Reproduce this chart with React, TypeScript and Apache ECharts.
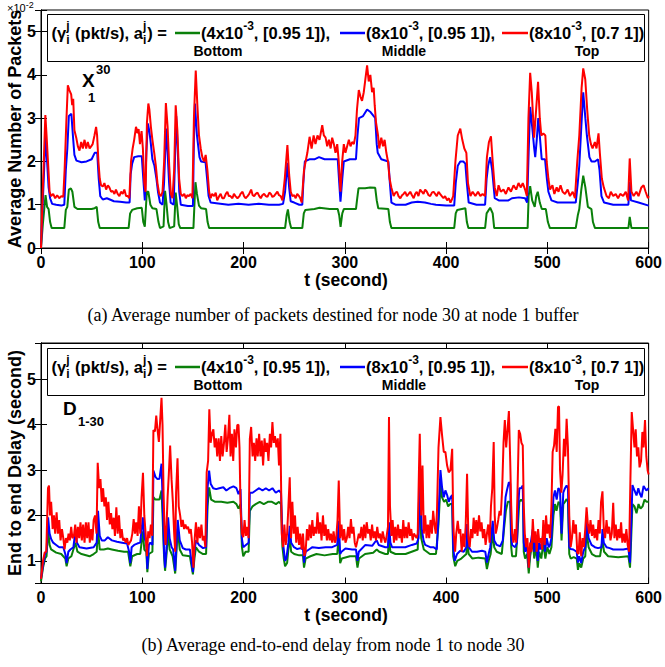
import React, { useEffect, useRef } from "react";
import * as echarts from "echarts";

// ---------- data: [t (s), value] ----------
const topGreen: number[][] = [[0,0],[2,0.6],[4.5,1.22],[6,0.95],[7.5,0.9],[9,0.6],[10.5,0.46],[23,0.46],[24.5,0.88],[26,0.95],[27.5,1.35],[29.5,1.38],[31,1.3],[33,0.95],[36,0.9],[45,0.9],[50,0.9],[53,0.92],[55,0.95],[56.5,0.6],[58,0.46],[86.5,0.46],[88,0.8],[90,0.88],[95,0.92],[99.5,0.93],[101,0.6],[102.5,0.49],[104.5,1.3],[106,1.3],[108,1.0],[110,0.92],[114,0.9],[116,0.6],[117.5,0.46],[121,0.5],[122.5,1.32],[124,1.0],[125.5,0.6],[127,0.46],[131.5,0.5],[133,1.28],[134.5,0.95],[136,0.55],[137.5,0.46],[150.5,0.46],[151.5,1.0],[152.5,1.52],[154,1.25],[156,0.98],[158,0.92],[163,0.9],[164.5,0.6],[166,0.46],[241,0.46],[242.5,0.75],[243.8,0.89],[245.5,0.6],[247,0.46],[258,0.46],[259.5,0.8],[261,0.88],[270,0.9],[275,0.93],[285,0.9],[293,0.9],[294.5,0.75],[295.8,0.49],[297.5,0.8],[299,0.9],[311,0.9],[312,1.1],[313.5,1.38],[320,1.38],[325,1.4],[330,1.39],[331.5,1.1],[333,0.92],[343,0.9],[344.5,0.6],[346,0.46],[408,0.46],[409.5,0.8],[411,0.88],[419,0.92],[420.5,0.6],[422,0.46],[438.5,0.46],[440,0.8],[443.5,0.93],[446,0.8],[447.5,0.46],[480.5,0.46],[481.5,1.2],[483,1.43],[485,1.1],[487.5,0.95],[489,1.2],[490.5,1.3],[492.5,1.05],[494.5,0.9],[498.5,0.9],[500.5,0.6],[502.5,0.46],[528,0.46],[530,0.75],[531.5,0.9],[533.5,1.35],[535.4,1.67],[537.5,1.4],[540,0.95],[543.5,0.9],[545,0.6],[547,0.46],[580,0.46],[581.3,0.72],[583,0.46],[600,0.46]];

const topBlue: number[][] = [[0,0],[2,1.2],[4.5,2.6],[6,2.0],[7.5,1.4],[9,1.15],[11,1.02],[15,1.0],[20,0.98],[23,1.0],[24.5,1.8],[26,2.3],[27.5,3.05],[30,3.1],[31.5,2.6],[33,2.15],[35,2.02],[40,1.98],[45,2.0],[50,2.05],[53,2.2],[55.5,2.2],[57,1.6],[58.5,1.2],[61,1.12],[65,1.15],[68,1.12],[72,1.08],[78,1.07],[84,1.05],[87.5,1.05],[88.5,1.7],[90,1.95],[92,2.1],[96,2.12],[99.5,2.12],[101,1.6],[102.5,1.1],[104,2.2],[105.5,2.88],[107,2.7],[108.5,2.4],[110,2.05],[112,1.9],[114,1.6],[115.5,1.3],[117.5,1.05],[120,1.0],[121.5,1.5],[123.5,2.76],[125,2.2],[126.5,1.5],[128,1.05],[131,1.0],[132,1.8],[133.5,3.05],[135,2.3],[136.5,1.3],[138,1.0],[145,0.97],[150,0.97],[151,2.5],[152,3.34],[154,2.6],[156.5,2.1],[158,2.0],[162.5,1.98],[164,1.6],[165.5,1.2],[167.5,1.05],[175,1.03],[185,1.0],[195,1.02],[205,1.0],[215,1.02],[225,1.0],[235,1.0],[239,1.02],[241,1.3],[243.3,1.97],[245,1.4],[246.5,1.08],[250,1.05],[255,1.0],[258,1.0],[259,1.5],[260.5,2.0],[265,2.05],[270,2.05],[274.5,2.1],[280,2.05],[287,2.05],[293,2.05],[294.5,1.5],[295.7,1.07],[297.5,1.6],[299,2.0],[305,2.05],[311,2.05],[312.5,2.6],[314,3.0],[318,3.05],[322,3.2],[325,3.15],[328.5,3.05],[330,3.0],[331.5,2.4],[332.5,2.2],[336,2.05],[343,2.0],[344.5,1.5],[346,1.05],[350,1.0],[360,1.0],[366,1.05],[372,1.07],[379,1.05],[385,1.02],[390,1.0],[400,0.98],[408,0.98],[409.5,1.5],[411.5,1.9],[414,2.0],[417,2.0],[419,1.95],[420.5,1.5],[422.3,1.05],[430,1.0],[438.5,1.0],[440,1.6],[441.5,1.9],[443.5,2.1],[445.5,1.8],[448,1.15],[452,1.1],[461.5,1.1],[465,1.15],[472,1.17],[478,1.15],[480,1.05],[481.5,2.2],[483,3.26],[485,2.8],[487,2.3],[488,2.1],[489.5,2.5],[491,3.0],[492.5,2.6],[494.4,2.05],[497.7,2.05],[499.5,1.6],[501,1.3],[504,1.1],[510,1.05],[520,1.05],[528,1.05],[530,1.5],[531.5,1.9],[533.5,2.8],[535.4,3.6],[537.5,3.0],[539,2.6],[541.5,2.1],[543.6,2.0],[547,2.0],[550,2.05],[551.5,1.8],[553.4,1.2],[556,1.05],[565,1.0],[575,1.0],[580,1.0],[581.3,1.53],[582.5,1.1],[590,1.05],[600,0.98]];

const topRed: number[][] = [[0,0],[2,1.5],[4.3,3.07],[5.5,2.6],[6.9,2.0],[8.5,1.3],[10,1.2],[12,1.25],[14,1.15],[16,1.22],[18,1.15],[20,1.2],[22,1.18],[23.3,1.8],[25,2.9],[26.5,3.76],[28,3.65],[29.8,3.55],[30.8,3.3],[31.8,3.45],[33,2.72],[34.8,2.55],[36.4,2.35],[38,2.25],[39.7,2.45],[41.3,2.3],[43,2.5],[44.6,2.3],[46.2,2.45],[48,2.3],[49.5,2.35],[51,2.4],[52.8,2.6],[54.4,2.8],[55.4,2.6],[56.7,2.0],[58,1.6],[59.3,1.45],[61,1.42],[62.6,1.5],[64.3,1.35],[66,1.45],[67.5,1.4],[69.2,1.3],[70.8,1.32],[72.5,1.25],[74,1.35],[75.7,1.25],[77.4,1.2],[79,1.3],[80.7,1.25],[82.3,1.35],[84,1.2],[85.6,1.2],[87.2,1.15],[88.9,2.0],[90.5,2.3],[92,2.5],[93.8,2.8],[95.4,2.65],[96.4,2.75],[97.7,2.4],[99.3,2.7],[100.6,2.3],[102,1.5],[103.3,1.3],[104.6,2.9],[106,3.34],[107,3.2],[108.5,2.8],[110,2.5],[111.8,2.2],[113.4,1.9],[115,1.5],[116.7,1.25],[118.4,1.2],[120,1.3],[121.6,2.0],[123.3,3.35],[125,2.8],[126.6,1.9],[128.2,1.25],[129.8,1.15],[131.5,1.8],[133,3.3],[134.7,2.7],[136.4,1.6],[138,1.25],[139.7,1.2],[141.5,1.25],[143,1.15],[144.5,1.22],[146,1.2],[147.8,1.25],[149.5,1.15],[151,3.0],[152.8,4.1],[154.4,3.3],[156,2.6],[157.7,2.3],[159.3,2.1],[161,2.0],[162.6,2.15],[164.3,1.8],[166,1.3],[167.5,1.15],[169,1.25],[171,1.2],[172.5,1.28],[174,1.1],[176,1.2],[177.4,1.25],[179,1.15],[180.7,1.15],[182.5,1.25],[184,1.3],[185.5,1.2],[187,1.2],[189,1.15],[190.5,1.25],[192,1.2],[194,1.15],[196,1.2],[197,1.25],[199,1.3],[200.5,1.2],[202,1.15],[204,1.2],[205.6,1.25],[207.5,1.35],[209,1.22],[210.5,1.2],[212,1.25],[213.8,1.28],[215.5,1.2],[217,1.15],[218.5,1.22],[220.3,1.25],[222,1.2],[223.6,1.18],[225.5,1.28],[227,1.25],[228.5,1.18],[230,1.2],[231.7,1.25],[233.4,1.3],[235,1.22],[236.7,1.2],[238.4,1.1],[240.7,1.6],[243.3,2.38],[245,1.7],[246.6,1.3],[248.2,1.2],[250,1.22],[251.5,1.15],[253,1.25],[254.8,1.2],[256,1.15],[257.4,1.05],[259.7,1.8],[261.3,2.0],[263,2.2],[265.2,2.57],[267.2,2.3],[269.2,2.6],[271,2.4],[273,2.6],[275,2.5],[277.7,2.84],[279.3,2.6],[281,2.55],[282.6,2.35],[284.3,2.5],[286,2.3],[287.5,2.55],[289.2,2.4],[290.8,2.2],[292.5,2.4],[294,2.0],[295.7,1.3],[297.4,2.0],[299,2.4],[300.6,2.2],[302.3,2.35],[304,2.5],[305.6,2.35],[307.2,2.45],[308.9,2.4],[310.5,2.6],[312,3.2],[313.8,3.65],[315.4,3.5],[317,3.4],[318.7,3.6],[320.3,3.9],[322,4.22],[323.6,3.85],[325.2,4.0],[326.9,3.6],[328.5,3.7],[329.5,3.3],[330.8,2.9],[332.8,2.6],[334,2.3],[336,2.55],[337.7,2.35],[339.3,2.5],[341,2.2],[342.6,2.0],[344.2,1.6],[345.9,1.4],[348.2,1.2],[350,1.28],[351.5,1.3],[353,1.2],[354.8,1.15],[356.5,1.22],[358,1.25],[359.6,1.3],[361.3,1.2],[363,1.25],[364.6,1.3],[366.3,1.22],[368,1.15],[369.5,1.25],[371,1.3],[372.7,1.2],[374.4,1.35],[376,1.3],[377.7,1.25],[379.3,1.35],[381,1.3],[382.7,1.22],[384.3,1.2],[386,1.28],[387.5,1.3],[389.2,1.25],[390.8,1.2],[392.5,1.3],[394,1.25],[395.7,1.2],[397.4,1.15],[399,1.2],[401,1.1],[402.7,1.15],[404.3,1.05],[405.7,1.12],[407,1.2],[409.2,2.0],[411.5,2.6],[414,2.76],[416,2.5],[418,2.3],[420,2.2],[421.6,1.5],[424,1.2],[426.2,1.3],[428.9,1.2],[431.5,1.3],[433.8,1.2],[436,1.25],[438.4,1.2],[440.3,2.1],[442.3,2.45],[444.3,2.58],[446,2.0],[448,1.4],[450,1.2],[451.8,1.45],[454,1.3],[456.7,1.35],[459,1.25],[461.6,1.4],[464,1.3],[466.6,1.45],[469.2,1.35],[471.5,1.5],[473.8,1.4],[475.7,1.5],[478,1.35],[479.7,1.2],[481.3,3.0],[483,4.05],[484.6,3.6],[486.9,2.55],[488.9,3.2],[490.8,3.84],[492.5,3.0],[494,2.6],[496,2.65],[498,2.6],[499.3,2.0],[501,1.6],[502.6,1.35],[505,1.45],[506.9,1.25],[509.2,1.4],[511,1.3],[513,1.45],[515,1.3],[517.4,1.25],[520,1.35],[522.3,1.2],[525,1.3],[527.2,1.15],[529.5,2.0],[531.5,2.6],[533.8,3.7],[535.4,4.15],[537.4,3.9],[539.3,3.2],[541.3,2.6],[543,2.4],[544.6,2.3],[546.9,2.45],[548.5,2.3],[550.5,2.65],[551.8,2.2],[553.8,1.6],[555.7,1.4],[558.4,1.2],[560.7,1.15],[562.6,1.3],[565,1.2],[567.5,1.25],[569.8,1.15],[572,1.25],[574.8,1.2],[577.4,1.3],[579.7,1.1],[581.3,2.07],[583,1.3],[585.2,1.2],[587.9,1.3],[590,1.2],[592.8,1.4],[595,1.45],[597,1.3],[599.3,1.15],[600,1.2]];

const botGreen: number[][] = [[0,0.55],[2,0.85],[4,1.05],[5.5,1.1],[7,1.7],[8.5,1.35],[10,1.25],[15,1.18],[20,1.15],[24,1.05],[25.3,0.88],[27,1.05],[30,1.1],[34,1.4],[36,1.2],[40,1.15],[48,1.1],[52,1.15],[55,1.2],[56.3,1.7],[58,1.25],[62,1.25],[66,1.27],[70,1.25],[76,1.22],[82,1.2],[86,1.2],[88.2,0.88],[90,1.1],[95,1.15],[98,1.15],[100.6,1.65],[102,1.25],[104,1.2],[105,0.75],[106.5,1.15],[110,1.2],[111,2.4],[113,2.35],[117,2.35],[119,2.55],[120,2.0],[121.5,1.1],[122.5,0.78],[124,1.15],[125.5,1.65],[127,1.25],[130,1.1],[132.5,0.72],[134,1.3],[135,1.7],[137,1.25],[140,1.12],[147,1.1],[150,0.7],[151.5,1.05],[153,1.3],[156,1.2],[160,1.15],[163,1.15],[164.5,2.2],[166,2.62],[168,2.35],[172,2.3],[178,2.3],[184,2.28],[190,2.3],[193,2.25],[195,2.15],[197,2.25],[198.4,1.3],[199.7,1.1],[202,1.2],[205,1.2],[206.2,2.1],[208.9,2.2],[212,2.25],[216,2.3],[220,2.25],[224,2.3],[228,2.3],[232,2.25],[235,2.3],[237,2.25],[238.4,1.3],[239.7,1.05],[241,0.88],[243,0.95],[245.6,1.55],[247,1.2],[250,1.15],[255,1.12],[258.7,1.12],[259.7,0.85],[261.3,1.05],[266,1.1],[272,1.15],[280,1.12],[288,1.15],[292.5,1.15],[294,1.55],[295.4,0.95],[297,1.05],[305,1.1],[311,1.1],[312.5,0.85],[314,1.05],[320,1.15],[328,1.18],[331.5,1.25],[334,1.2],[340,1.15],[342.6,1.15],[343.6,1.55],[345,1.2],[350,1.15],[360,1.15],[366,1.2],[372,1.25],[373.5,2.55],[375.4,1.5],[378,1.25],[384,1.15],[390,1.15],[392.5,1.8],[394.5,2.7],[396,2.4],[398,2.3],[400,2.35],[402,2.2],[404,2.25],[406,2.25],[407,1.1],[409,0.88],[411,1.0],[415,1.05],[420,1.15],[420.7,1.45],[422.3,1.15],[426,1.05],[432,1.07],[438.7,1.05],[440.3,0.82],[442,1.0],[444,1.15],[446,1.65],[447.5,1.3],[450,1.2],[455,1.15],[457.4,1.75],[459,2.1],[461,2.3],[463.3,2.3],[464.3,1.3],[465.2,1.1],[469,1.1],[471,1.8],[472.3,2.3],[474,2.35],[476,2.3],[476.7,1.2],[478,1.05],[480,1.15],[481.6,0.72],[483,1.1],[485.6,1.45],[487,1.05],[489,1.3],[490.5,0.85],[492,1.2],[494,1.05],[496,1.4],[498,1.05],[500,1.3],[502,1.15],[504,1.3],[506,2.0],[507.5,2.25],[509,2.1],[511,2.3],[512.5,2.25],[514,1.45],[515.7,2.25],[517.4,2.3],[519,2.36],[520.3,2.3],[521.6,1.15],[523,1.05],[526,1.08],[529,1.05],[530.2,0.8],[531.5,0.95],[533.4,0.85],[535.4,1.05],[537.4,1.1],[538.7,1.65],[540.7,1.3],[544,1.15],[548,1.1],[552,1.1],[554.4,1.45],[556,1.2],[560,1.1],[570,1.08],[580,1.1],[581.6,0.85],[582.6,1.4],[584,2.25],[586,2.2],[588,2.05],[590,2.25],[592,2.15],[594,2.2],[596,2.35],[598,2.3],[600,2.3]];

const botBlue: number[][] = [[0,0.6],[2,0.9],[4,1.15],[5.5,1.2],[7,1.96],[8.5,1.6],[10,1.48],[12,1.4],[15,1.35],[18,1.3],[22,1.3],[24,1.15],[25.3,0.95],[27,1.2],[29,1.25],[32,1.3],[34,1.66],[35.5,1.4],[38,1.3],[45,1.27],[52,1.3],[55,1.4],[56.3,2.1],[58,1.55],[60,1.45],[63,1.45],[66,1.52],[70,1.45],[75,1.42],[80,1.4],[85,1.38],[87,1.2],[88.2,0.95],[89.5,1.3],[92,1.35],[95,1.38],[98,1.4],[100.6,1.96],[102,1.5],[104,1.4],[105,0.82],[106.5,1.35],[108,1.4],[110,1.35],[111,2.99],[113,2.85],[115,2.8],[117,2.81],[119,3.14],[120,2.4],[121.5,1.2],[122.5,0.85],[124,1.3],[125.5,1.96],[127,1.5],[129,1.3],[130.5,1.25],[132.5,0.78],[134,1.5],[135,1.9],[137,1.45],[140,1.28],[143,1.25],[147,1.25],[150,0.75],[151.5,1.2],[153,1.45],[156,1.35],[160,1.28],[163,1.3],[164.5,2.62],[166,2.99],[167.5,2.7],[170,2.6],[173,2.58],[176,2.6],[180,2.62],[183,2.55],[186,2.6],[190,2.64],[193,2.6],[195,2.47],[197,2.58],[198.4,1.48],[199.7,1.3],[202.3,1.35],[205,1.4],[206.2,2.5],[208.9,2.5],[212,2.55],[215.4,2.6],[218.7,2.55],[222,2.6],[225.2,2.55],[228.5,2.6],[231.8,2.5],[235,2.55],[237,2.5],[238.4,1.5],[239.7,1.25],[241,1.0],[242.3,1.05],[244.3,1.4],[245.6,1.77],[247,1.4],[249.8,1.3],[253,1.26],[256.4,1.28],[258.7,1.25],[259.7,0.96],[261.3,1.2],[264.6,1.25],[268,1.3],[274.4,1.28],[281,1.3],[287.5,1.3],[292.5,1.35],[294,1.88],[295.4,1.15],[296.7,1.2],[300.6,1.27],[307.2,1.25],[311,1.25],[312.5,1.0],[313.8,1.2],[320.3,1.35],[327,1.33],[330,1.42],[331.5,1.45],[333.4,1.35],[340,1.3],[342.6,1.3],[343.6,1.85],[345,1.4],[346.6,1.3],[353,1.3],[359.7,1.3],[366.2,1.35],[371,1.38],[372.8,1.5],[374,2.77],[376,1.7],[377.7,1.45],[379.3,1.35],[384.3,1.3],[387.5,1.3],[390.8,1.25],[392.5,2.0],[394.4,3.0],[396,2.62],[397.7,2.4],[399.3,2.55],[401,2.45],[402.6,2.3],[404.3,2.4],[406,2.45],[407,1.3],[408.5,1.0],[410.8,1.15],[414,1.22],[417.4,1.2],[420,1.3],[420.7,1.81],[422.3,1.3],[425.6,1.2],[430.5,1.2],[435.4,1.22],[438.7,1.2],[440.3,0.96],[442,1.15],[443.6,1.3],[446,1.88],[447.5,1.45],[450,1.35],[453.4,1.32],[456,1.45],[457.4,1.9],[458.7,2.4],[460,2.55],[462,2.73],[463.3,2.7],[464.3,1.5],[465.2,1.35],[468.2,1.3],[470,1.4],[471,2.1],[472.3,2.6],[474,2.6],[475.7,2.66],[476.7,1.4],[478,1.2],[479.7,1.35],[481.6,0.85],[483,1.3],[485.6,1.7],[487,1.2],[489,1.5],[490.5,1.0],[491.8,1.4],[493.4,1.25],[496,1.6],[497.7,1.2],[499.3,1.5],[501.3,1.3],[502.6,1.35],[504,1.5],[506,2.4],[507.5,2.55],[509.2,2.35],[510.8,2.6],[512.5,2.55],[514,1.6],[515.7,2.5],[517.4,2.6],[519,2.66],[520.3,2.6],[521.6,1.3],[523,1.26],[525.6,1.25],[528.9,1.2],[530.2,0.96],[531.5,1.1],[533.4,0.95],[535.4,1.2],[537.4,1.3],[538.7,1.9],[540.7,1.5],[543.6,1.35],[546.9,1.3],[550,1.28],[553.4,1.3],[554.4,1.7],[555.7,1.4],[558.4,1.3],[561.6,1.28],[565,1.25],[570,1.25],[575,1.25],[580,1.27],[581.6,0.96],[582.6,1.7],[584,2.67],[586,2.55],[588,2.44],[589.8,2.6],[591,2.5],[593,2.4],[595,2.65],[597.7,2.55],[600,2.6]];

const botRed: number[][] = [[0,0.6],[2,1.0],[3.6,1.18],[5.2,1.2],[6.9,2.6],[7.9,2.66],[8.9,2.0],[10,2.3],[11.5,1.7],[12.8,2.0],[14,1.6],[15.4,2.07],[16.7,1.6],[18,1.9],[19.3,1.45],[20.7,1.7],[22,1.5],[23.3,1.25],[24.6,1.5],[26,1.4],[27.2,1.6],[28.5,1.45],[29.8,1.75],[31,1.5],[32.5,1.55],[33.8,1.8],[35,1.4],[36.4,1.75],[37.7,1.5],[39,1.85],[40.3,1.45],[41.6,1.8],[43,1.4],[44.3,1.85],[45.6,1.5],[46.9,1.85],[48.2,1.4],[49.5,1.7],[50.8,1.45],[52,1.9],[53.4,2.0],[54.8,1.6],[56,3.16],[57.4,2.6],[58.7,2.8],[60,2.3],[61.3,2.6],[62.6,2.2],[64,2.4],[65.2,1.9],[66.5,2.3],[67.9,1.8],[69.2,2.05],[70.5,1.7],[71.8,1.95],[73,1.55],[74.4,2.18],[75.7,1.6],[77,2.0],[78.4,1.5],[79.7,1.7],[81,1.45],[82.3,1.5],[83.6,1.4],[85,1.5],[86.2,1.35],[87.5,1.4],[88.9,1.45],[90.2,1.6],[91.5,1.92],[92.8,1.6],[94,1.85],[95.4,1.55],[96.7,2.2],[98,1.6],[99.3,2.4],[100.7,2.94],[102,2.0],[103.3,1.6],[104.6,1.1],[105.9,1.65],[107.2,1.5],[108.5,1.8],[109.8,1.55],[111,3.88],[112.5,3.85],[113.8,4.2],[115,3.9],[116.4,3.62],[117.7,4.1],[119,4.59],[120,4.0],[121,2.5],[122,1.7],[123,1.35],[124,1.8],[125,2.4],[126.2,2.9],[127.5,3.54],[128.9,2.8],[130.2,2.3],[131.5,1.6],[132.5,1.2],[133.4,2.51],[134.8,3.26],[136,2.2],[137.4,2.0],[138.7,1.75],[140,1.9],[141.3,1.7],[142.6,1.8],[144,1.7],[145.2,1.75],[146.6,1.6],[147.9,1.7],[149.2,1.4],[150.5,0.85],[151.8,1.5],[153,1.85],[154.4,1.4],[155.7,1.75],[157,1.5],[158.4,1.8],[159.7,1.45],[161,1.55],[162.3,1.3],[163.6,2.95],[165,3.2],[166.2,4.34],[167.5,3.6],[168.8,3.8],[170.2,3.9],[171.5,3.5],[172.8,3.7],[174,3.3],[175.4,3.7],[176.7,3.2],[178,3.75],[179.3,3.3],[180.7,3.6],[182,4.0],[183.3,3.4],[184.6,3.7],[186,4.22],[187.2,3.3],[188.5,3.8],[189.8,3.2],[191,3.9],[192.5,3.5],[193.8,3.99],[195,4.0],[196,3.5],[197,2.2],[198.4,1.6],[199.7,1.52],[201,1.9],[202.3,1.55],[203.6,1.75],[205,1.5],[206.2,3.69],[207.5,3.95],[208.9,3.3],[210.2,3.6],[211.5,3.2],[212.8,3.7],[214,3.3],[215.4,3.8],[216.7,3.3],[218,3.65],[219.3,3.1],[220.7,3.7],[222,3.4],[223.3,3.6],[224.6,3.2],[226,3.8],[227.2,3.5],[228.5,4.06],[229.8,3.6],[231,3.75],[232.5,3.5],[233.8,3.7],[235,3.1],[236.4,3.8],[237.7,1.6],[239,1.3],[240.3,1.8],[241.6,1.35],[243,1.6],[244.3,2.2],[245.6,2.84],[246.9,1.5],[248.2,2.3],[249.5,1.6],[250.8,2.0],[252,1.4],[253.4,1.75],[254.8,1.35],[256,1.6],[257.4,1.25],[258.7,1.6],[260,1.11],[261.3,1.2],[262.6,1.7],[264,1.45],[265.2,1.8],[266.6,1.5],[267.9,1.9],[269.2,1.55],[270.5,1.75],[271.8,1.6],[273,2.07],[274.4,1.6],[275.7,1.85],[277,1.45],[278.4,2.0],[279.7,1.55],[281,1.8],[282.3,1.45],[283.6,1.7],[285,1.45],[286.2,1.6],[287.5,1.4],[288.9,1.65],[290.2,1.4],[291.5,1.5],[292.8,1.9],[294,2.77],[295.4,1.5],[296.7,1.8],[298,1.45],[299.3,1.7],[300.6,1.4],[302,1.5],[303.3,1.75],[304.6,1.5],[306,1.92],[307.2,1.6],[308.5,1.75],[309.8,1.4],[311,1.3],[312.5,1.45],[313.8,1.6],[315,1.5],[316.4,1.75],[317.7,1.45],[319,1.8],[320.3,1.5],[321.6,1.85],[323,1.6],[324.3,1.7],[325.6,1.45],[326.9,1.8],[328.2,1.5],[329.5,1.65],[330.8,1.45],[332,1.75],[333.4,1.5],[334.8,1.6],[336,1.4],[337.4,1.65],[338.7,1.5],[340,1.4],[341.3,1.55],[342.6,1.75],[343.6,4.17],[344.6,2.2],[346,1.55],[347.2,1.9],[348.5,1.4],[349.8,1.75],[351,1.45],[352.5,1.8],[353.8,1.5],[355,1.7],[356.4,1.4],[357.7,1.9],[359,1.5],[360.3,1.75],[361.6,1.5],[363,1.85],[364.3,1.55],[365.6,1.7],[367,1.45],[368.2,1.6],[369.5,1.55],[370.8,1.5],[372,1.6],[373.2,3.0],[374,3.8],[375.4,2.0],[376.7,3.1],[378,1.6],[379.3,2.0],[380.7,1.5],[382,1.8],[383.3,1.5],[384.6,1.9],[386,1.6],[387.2,2.1],[388.5,1.8],[389.8,1.6],[391,2.1],[392.5,3.5],[394.4,4.17],[396,3.77],[397.7,3.4],[399.3,3.4],[401,3.1],[402.6,2.95],[404.3,3.0],[406,3.47],[407,2.0],[407.5,1.63],[408.9,1.2],[410,1.6],[411.5,1.88],[412.8,1.6],[414,1.7],[415.4,1.2],[416.7,1.6],[418,1.3],[419.3,1.75],[420.7,2.92],[422,1.5],[423.3,1.3],[424.6,1.7],[426,1.5],[427.2,1.95],[428.5,1.6],[429.8,1.9],[431,1.55],[432.5,2.0],[433.8,1.65],[435,1.85],[436.4,1.5],[437.7,1.7],[439,1.35],[440.3,1.6],[441.6,1.8],[443,1.4],[444.3,2.2],[445.6,2.6],[447,3.62],[448,2.0],[449,1.6],[450,1.7],[451.5,1.9],[452.8,2.1],[454,2.0],[455.4,2.6],[456.7,3.6],[458,4.1],[459.3,3.5],[460.7,3.9],[462,4.3],[463.3,3.2],[464.3,2.2],[465.2,1.6],[466.6,1.4],[467.9,1.7],[469.2,1.4],[470.5,2.5],[471.8,3.88],[473.1,3.8],[474.4,3.6],[475.7,3.54],[476.7,2.2],[477.7,1.6],[479,1.3],[480.3,1.5],[481.6,0.85],[483,1.4],[484.3,1.2],[485.6,1.92],[486.9,1.4],[488.2,1.65],[489.5,1.2],[490.8,1.7],[492.1,1.4],[493.4,1.5],[494.8,1.25],[496,1.9],[497.4,1.35],[498.7,2.0],[500,1.6],[501.3,1.8],[502.6,1.5],[504,2.2],[505.2,3.4],[506.6,3.54],[507.9,3.91],[509.2,3.4],[510.5,4.39],[511.5,4.4],[512.5,3.0],[513.8,2.5],[515,2.9],[516.4,3.69],[517.7,3.3],[519,4.13],[520.3,3.5],[521.6,2.0],[523,1.3],[524.3,1.5],[525.6,1.9],[526.9,1.6],[528.2,1.8],[529.5,1.18],[530.8,1.15],[532,1.63],[533.4,1.1],[534.8,1.5],[536,1.3],[537.4,1.7],[538.7,2.18],[540,1.8],[541.3,1.6],[542.6,1.9],[544,1.55],[545.2,1.8],[546.6,1.5],[547.9,1.7],[549.2,1.45],[550.5,1.9],[551.8,1.6],[553,2.3],[554.4,2.53],[555.7,1.7],[557,1.5],[558.4,1.9],[559.7,1.6],[561,1.75],[562.3,1.45],[563.6,1.6],[565,2.28],[566.2,1.5],[567.5,1.8],[568.9,1.45],[570.2,1.7],[571.5,1.5],[572.8,1.85],[574,1.4],[575.4,1.6],[576.7,1.4],[578,1.7],[579.3,1.35],[580.7,1.2],[582,2.8],[583.3,4.28],[584.6,3.9],[586,3.5],[587.2,3.9],[588.5,3.3],[589.8,3.5],[591,3.06],[592.5,3.2],[593.8,3.84],[595,3.5],[596.4,4.1],[597.7,3.3],[599,2.99],[600,2.9]];

const xTickValues = [0, 100, 200, 300, 400, 500, 600];
const legendEntries = [
  { rate: "(4x10", exp: "-3", rest: ", [0.95 1]),", tag: "Bottom" },
  { rate: "(8x10", exp: "-3", rest: ", [0.95 1]),", tag: "Middle" },
  { rate: "(8x10", exp: "-3", rest: ", [0.7 1])", tag: "Top" },
];

const GREEN = "#0a800a";
const BLUE = "#0000ff";
const RED = "#ff0000";
const SANS = '"Liberation Sans", Arial, sans-serif';
const SERIF = '"Liberation Serif", "Times New Roman", serif';

let measureCtx: CanvasRenderingContext2D | null = null;
function tw(text: string, size: number, weight = "bold", family = SANS) {
  if (!measureCtx) measureCtx = document.createElement("canvas").getContext("2d");
  measureCtx!.font = `${weight} ${size}px ${family}`;
  return measureCtx!.measureText(text).width;
}

function T(x: number, y: number, text: string, size: number, opts: any = {}) {
  const align = opts.align || "left";
  const weight = opts.weight || "bold";
  return {
    type: "text",
    x,
    y,
    rotation: opts.rotation || 0,
    z: 100,
    style: {
      text,
      fill: "#000",
      fontSize: size,
      fontWeight: weight,
      fontFamily: opts.family || SANS,
      align,
      textAlign: align,
      verticalAlign: "middle",
      textVerticalAlign: "middle",
    },
  };
}

function legend(y0: number) {
  const els: any[] = [];
  els.push({
    type: "rect",
    z: 99,
    shape: { x: 47.5, y: y0 + 0.5, width: 597, height: 47 },
    style: { fill: "#fff", stroke: "#000", lineWidth: 1 },
  });
  const yc = y0 + 19;
  const y2 = y0 + 37;
  const F = 16.5;
  const S = 12;
  let x = 51.5;
  const put = (s: string) => {
    els.push(T(x, yc, s, F));
    x += tw(s, F);
  };
  const supsub = (sup: string, sub: string) => {
    els.push(T(x, yc - 7, sup, S));
    els.push(T(x, yc + 7, sub, S));
    x += Math.max(tw(sup, S), tw(sub, S)) + 1;
  };
  put("(γ");
  supsub("j", "i");
  put(" (pkt/s), a");
  supsub("j", "i");
  put(") =");
  const colors = [GREEN, BLUE, RED];
  const lineX = [[175, 200], [340, 365], [502, 528]];
  const tagX = [218, 404, 587];
  legendEntries.forEach((e, i) => {
    els.push({
      type: "line",
      z: 100,
      shape: { x1: lineX[i][0], y1: yc, x2: lineX[i][1], y2: yc },
      style: { stroke: colors[i], lineWidth: 2.5 },
    });
    let tx = lineX[i][1] + 1;
    els.push(T(tx, yc, e.rate, F));
    tx += tw(e.rate, F);
    els.push(T(tx, yc - 7, e.exp, S));
    tx += tw(e.exp, S);
    els.push(T(tx, yc, e.rest, F));
    els.push(T(tagX[i], y2, e.tag, 14, { align: "center" }));
  });
  return els;
}

function axisPair(gridIndex: number, min: number, max: number, isX: boolean, auto: boolean) {
  const common: any = {
    type: "value",
    gridIndex,
    min,
    max,
    axisLine: { show: true, lineStyle: { color: "#000", width: 1 } },
    axisTick: { show: true, inside: true, length: 6, lineStyle: { color: "#000" } },
    splitLine: { show: false },
  };
  if (!auto) common.interval = isX ? 100 : 1;
  else common.splitNumber = 5;
  const main = {
    ...common,
    position: isX ? "bottom" : "left",
    axisLabel: {
      show: true,
      color: "#000",
      fontSize: 16,
      fontWeight: "bold",
      fontFamily: SANS,
      margin: isX ? 6 : 5,
      formatter: (v: number) =>
        isX ? (xTickValues.includes(v) ? String(v) : "") : Number.isInteger(v) ? String(v) : "",
    },
  };
  const mirror = { ...common, position: isX ? "top" : "right", axisLabel: { show: false } };
  return [main, mirror];
}

function mkSeries(data: number[][], color: string, ai: number) {
  return {
    type: "line",
    data,
    xAxisIndex: ai,
    yAxisIndex: ai,
    showSymbol: false,
    symbol: "none",
    lineStyle: { color, width: 2 },
    itemStyle: { color },
    z: 3,
  };
}

export default function App() {
  const ref = useRef<HTMLDivElement>(null);
  useEffect(() => {
    if (!ref.current) return;
    const chart = echarts.init(ref.current, undefined, { renderer: "svg" });
    const graphics: any[] = [
      ...legend(14),
      ...legend(348),
      // y-axis names
      T(15, 129, "Average Number of Packets", 18, { align: "center", rotation: Math.PI / 2 }),
      T(15, 463, "End to end Delay (second)", 18, { align: "center", rotation: Math.PI / 2 }),
      // x-axis names
      T(346, 280, "t (second)", 17.5, { align: "center" }),
      T(346, 615, "t (second)", 17.5, { align: "center" }),
      // exponent
      T(7, 8, "×10", 11, { weight: "normal" }),
      T(7 + tw("×10", 11, "normal"), 5, "-2", 9, { weight: "normal" }),
      // annotations
      T(82, 80, "X", 19),
      T(96, 69, "30", 13),
      T(88, 97, "1", 13),
      T(63, 408, "D", 19),
      T(78, 421, "1-30", 13),
      // captions
      T(333, 315, "(a) Average number of packets destined for node 30 at node 1 buffer", 18, {
        align: "center",
        weight: "normal",
        family: SERIF,
      }),
      T(333, 645, "(b) Average end-to-end delay from node 1 to node 30", 18, {
        align: "center",
        weight: "normal",
        family: SERIF,
      }),
    ];
    const [x0, x0m] = axisPair(0, 0, 600, true, false);
    const [x1, x1m] = axisPair(1, 0, 600, true, false);
    const [y0, y0m] = axisPair(0, 0, 5.5, false, false);
    const [y1, y1m] = axisPair(1, 0.5, 5.8, false, true);
    chart.setOption({
      animation: false,
      backgroundColor: "#fff",
      grid: [
        { left: 41, top: 10, width: 610, height: 238, show: true, borderColor: "#000", borderWidth: 1, backgroundColor: "transparent" },
        { left: 41, top: 343, width: 610, height: 240.5, show: true, borderColor: "#000", borderWidth: 1, backgroundColor: "transparent" },
      ],
      xAxis: [x0, x0m, x1, x1m],
      yAxis: [y0, y0m, y1, y1m],
      series: [
        mkSeries(topGreen, GREEN, 0),
        mkSeries(topBlue, BLUE, 0),
        mkSeries(topRed, RED, 0),
        mkSeries(botGreen, GREEN, 2),
        mkSeries(botBlue, BLUE, 2),
        mkSeries(botRed, RED, 2),
      ],
      graphic: { elements: graphics },
    });
    return () => chart.dispose();
  }, []);
  return (
    <div
      ref={ref}
      style={{ position: "absolute", left: 0, top: 0, width: 665, height: 667 }}
    />
  );
}
